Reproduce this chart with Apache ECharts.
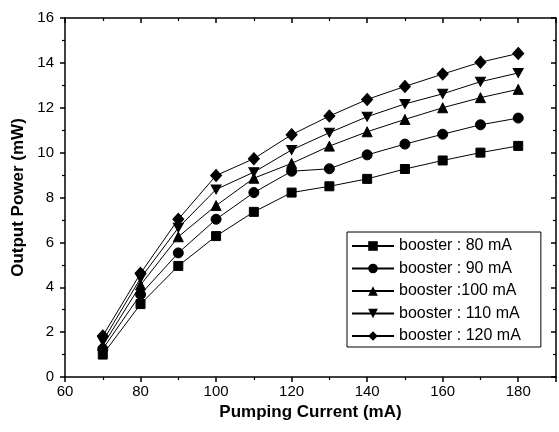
<!DOCTYPE html>
<html>
<head>
<meta charset="utf-8">
<script src="https://cdn.jsdelivr.net/npm/echarts@6/dist/echarts.min.js"></script>
<style>
html,body{margin:0;padding:0;background:#fff;}
#c{width:559px;height:432px;}
</style>
</head>
<body>
<div id="c"></div>
<script>
const currents = [70, 80, 90, 100, 110, 120, 130, 140, 150, 160, 170, 180];
const booster80  = [1.0, 3.25, 4.95, 6.28, 7.36, 8.22, 8.50, 8.83, 9.27, 9.65, 10.00, 10.30];
const booster90  = [1.25, 3.68, 5.53, 7.03, 8.22, 9.17, 9.28, 9.90, 10.38, 10.82, 11.24, 11.54];
const booster100 = [1.40, 4.10, 6.25, 7.64, 8.86, 9.52, 10.29, 10.93, 11.48, 12.00, 12.45, 12.82];
const booster110 = [1.60, 4.40, 6.65, 8.36, 9.13, 10.12, 10.89, 11.60, 12.17, 12.62, 13.16, 13.55];
const booster120 = [1.83, 4.62, 7.03, 8.98, 9.73, 10.80, 11.63, 12.37, 12.95, 13.50, 14.03, 14.42];
const seriesNames = ['booster : 80 mA', 'booster : 90 mA', 'booster :100 mA', 'booster : 110 mA', 'booster : 120 mA'];
const xTicks = [60, 80, 100, 120, 140, 160, 180];
const yTicks = [0, 2, 4, 6, 8, 10, 12, 14, 16];

const seriesData = [booster80, booster90, booster100, booster110, booster120];
const symbols = ['rect', 'circle', 'triangle', 'path://M0,0 L10,0 L5,9 Z', 'diamond'];
const sizes = [9, 10, 10, [10, 9], [11, 12]];

const chart = echarts.init(document.getElementById('c'), null, {renderer: 'canvas'});
const font = '"Liberation Sans", Arial, Helvetica, sans-serif';

chart.setOption({
  animation: false,
  backgroundColor: '#fff',
  grid: {left: 65, right: 1, top: 18, bottom: 55, containLabel: false},
  xAxis: [{
    type: 'value', min: 60, max: 190, interval: 20, position: 'bottom',
    name: 'Pumping Current (mA)', nameLocation: 'middle', nameGap: 25,
    nameTextStyle: {fontFamily: font, fontSize: 17, fontWeight: 'bold', color: '#000'},
    axisLine: {show: true, onZero: false, lineStyle: {color: '#000', width: 1.5}},
    axisTick: {show: true, inside: false, length: 5, lineStyle: {color: '#000', width: 1.5}},
    minorTick: {show: true, splitNumber: 2, length: 3, lineStyle: {color: '#000', width: 1.2}},
    axisLabel: {fontFamily: font, fontSize: 15, color: '#000', margin: 7,
      formatter: v => xTicks.includes(v) ? String(v) : ''},
    splitLine: {show: false}
  }, {
    type: 'value', min: 60, max: 190, interval: 20, position: 'top',
    axisLine: {show: true, onZero: false, lineStyle: {color: '#000', width: 1.5}},
    axisTick: {show: true, inside: true, length: 5, lineStyle: {color: '#000', width: 1.5}},
    minorTick: {show: true, splitNumber: 2, length: 3, lineStyle: {color: '#000', width: 1.2}},
    axisLabel: {show: false},
    splitLine: {show: false}
  }],
  yAxis: [{
    type: 'value', min: 0, max: 16, interval: 2, position: 'left',
    name: 'Output Power (mW)', nameLocation: 'middle', nameGap: 35,
    nameTextStyle: {fontFamily: font, fontSize: 17, fontWeight: 'bold', color: '#000'},
    axisLine: {show: true, onZero: false, lineStyle: {color: '#000', width: 1.5}},
    axisTick: {show: true, inside: false, length: 5, lineStyle: {color: '#000', width: 1.5}},
    minorTick: {show: true, splitNumber: 2, length: 3, lineStyle: {color: '#000', width: 1.2}},
    axisLabel: {fontFamily: font, fontSize: 15, color: '#000', margin: 11,
      formatter: v => yTicks.includes(v) ? String(v) : ''},
    splitLine: {show: false}
  }, {
    type: 'value', min: 0, max: 16, interval: 2, position: 'right',
    axisLine: {show: true, onZero: false, lineStyle: {color: '#000', width: 1.5}},
    axisTick: {show: true, inside: true, length: 5, lineStyle: {color: '#000', width: 1.5}},
    minorTick: {show: true, splitNumber: 2, length: 3, lineStyle: {color: '#000', width: 1.2}},
    axisLabel: {show: false},
    splitLine: {show: false}
  }],
  legend: {
    orient: 'vertical', left: 347, top: 232, width: 192,
    backgroundColor: '#fff', borderColor: '#000', borderWidth: 1, borderRadius: 0,
    padding: [6, 20, 3, 4], itemGap: 6.5, itemWidth: 42, itemHeight: 12,
    textStyle: {fontFamily: font, fontSize: 16, color: '#000', lineHeight: 15},
    data: seriesNames
  },
  series: seriesData.map((d, i) => ({
    type: 'line', name: seriesNames[i], xAxisIndex: 0, yAxisIndex: 0,
    data: currents.map((c, j) => [c, d[j]]),
    symbol: symbols[i], symbolSize: sizes[i], showSymbol: true,
    lineStyle: {color: '#000', width: 1},
    itemStyle: {color: '#000', borderColor: '#000'},
    z: 3
  }))
});
</script>
</body>
</html>
